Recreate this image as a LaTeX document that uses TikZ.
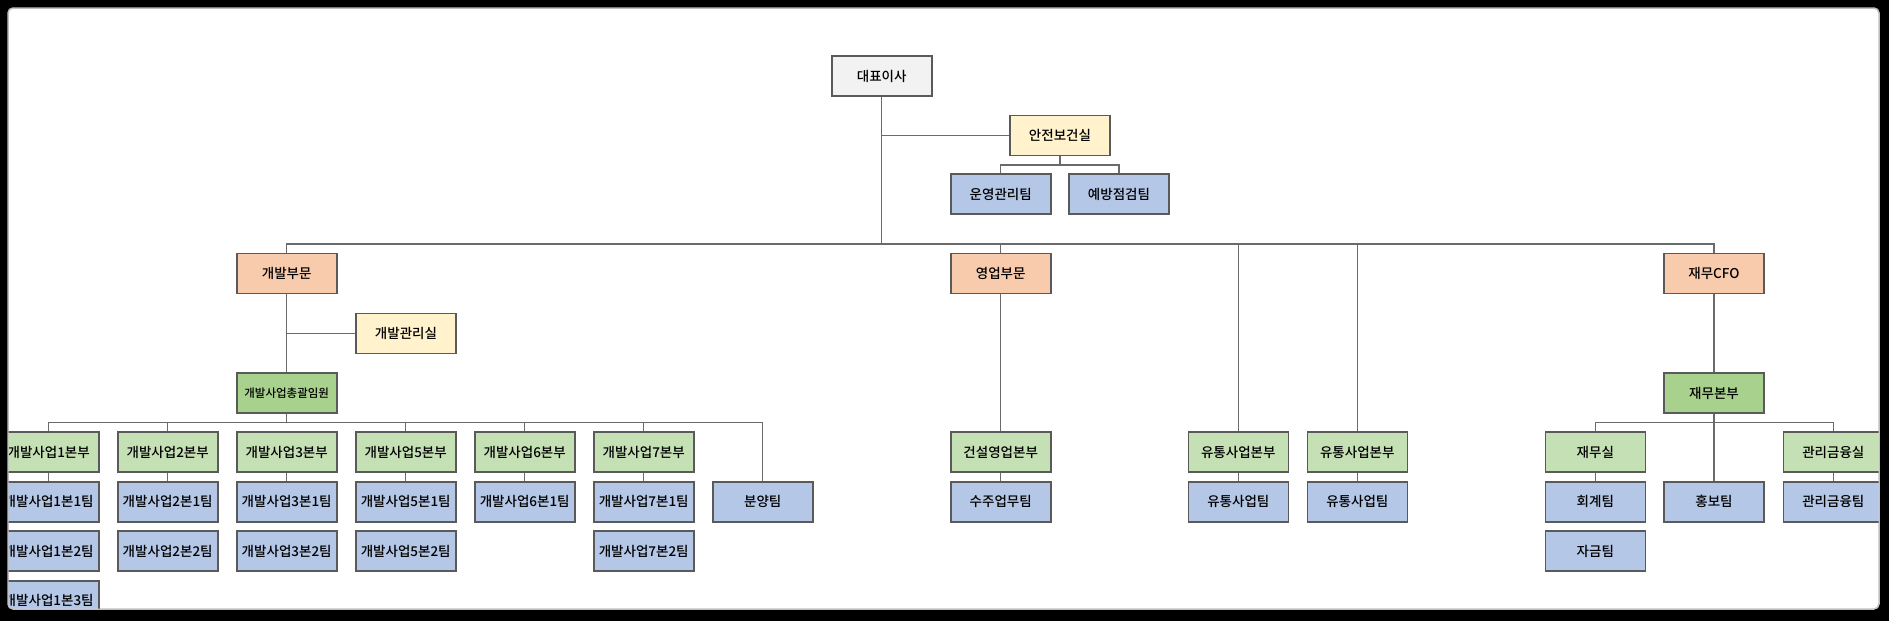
\documentclass[tikz,border=0pt]{standalone}
\usepackage{fontspec}
\newfontfamily\kr{Noto Sans CJK KR}[UprightFont={* Medium}]
\definecolor{cgray}{HTML}{F2F2F2}
\definecolor{cyel}{HTML}{FFF2CC}
\definecolor{corg}{HTML}{F8CBAD}
\definecolor{cdg}{HTML}{A9D18E}
\definecolor{clg}{HTML}{C5E0B4}
\definecolor{cbl}{HTML}{B4C7E7}
\definecolor{bline}{HTML}{5A5A5A}
\definecolor{cline}{HTML}{6A6A6A}
\tikzset{
  box/.style={draw=bline, line width=1.6pt, minimum width=100pt, minimum height=40pt, inner sep=0pt, font=\kr\fontsize{13.5}{16}\selectfont},
  gbox/.style={box, fill=cgray},
  ybox/.style={box, fill=cyel},
  obox/.style={box, fill=corg},
  dgbox/.style={box, fill=cdg},
  lgbox/.style={box, fill=clg},
  bbox/.style={box, fill=cbl},
  conn/.style={draw=cline, line width=1.3pt},
}
\begin{document}
\begin{tikzpicture}[x=1pt,y=-1pt]
\useasboundingbox (0,0) rectangle (1889,621);
\fill[black] (0,0) rectangle (1889,621);
\fill[white, draw=gray!50, line width=1.5pt, rounded corners=5pt] (8,8) rectangle (1879,609);
\begin{scope}
\clip[rounded corners=5pt] (8.5,8.5) rectangle (1878.5,608.5);
% coordinates
\coordinate (mb) at (881.7,244);
\coordinate (db) at (286.7,422.5);
\coordinate (fb) at (1714,422.5);
\coordinate (sb) at (1060,165);
% nodes
\node[gbox] (ceo) at (881.7,76) {대표이사};
\node[ybox] (safe) at (1060,135.5) {안전보건실};
\node[bbox] (ops) at (1000.7,194) {운영관리팀};
\node[bbox] (prev) at (1119,194) {예방점검팀};
\node[obox] (dev) at (286.7,273.5) {개발부문};
\node[ybox] (devm) at (406,333.5) {개발관리실};
\node[dgbox, font=\kr\fontsize{11.5}{14}\selectfont] (devx) at (286.7,393) {개발사업총괄임원};
\node[obox] (sales) at (1000.7,273.5) {영업부문};
\node[obox] (fin) at (1714,273.5) {재무CFO};
\node[dgbox] (finhq) at (1714,393) {재무본부};
% dev level 3
\node[lgbox] (d1) at (48.7,452) {개발사업1본부};
\node[lgbox] (d2) at (167.7,452) {개발사업2본부};
\node[lgbox] (d3) at (286.7,452) {개발사업3본부};
\node[lgbox] (d5) at (405.7,452) {개발사업5본부};
\node[lgbox] (d6) at (524.7,452) {개발사업6본부};
\node[lgbox] (d7) at (643.7,452) {개발사업7본부};
\node[bbox] (bun) at (762.7,501.7) {분양팀};
% dev teams
\node[bbox] (d1a) at (48.7,501.7) {개발사업1본1팀};
\node[bbox] (d1b) at (48.7,551.2) {개발사업1본2팀};
\node[bbox] (d1c) at (48.7,600.7) {개발사업1본3팀};
\node[bbox] (d2a) at (167.7,501.7) {개발사업2본1팀};
\node[bbox] (d2b) at (167.7,551.2) {개발사업2본2팀};
\node[bbox] (d3a) at (286.7,501.7) {개발사업3본1팀};
\node[bbox] (d3b) at (286.7,551.2) {개발사업3본2팀};
\node[bbox] (d5a) at (405.7,501.7) {개발사업5본1팀};
\node[bbox] (d5b) at (405.7,551.2) {개발사업5본2팀};
\node[bbox] (d6a) at (524.7,501.7) {개발사업6본1팀};
\node[bbox] (d7a) at (643.7,501.7) {개발사업7본1팀};
\node[bbox] (d7b) at (643.7,551.2) {개발사업7본2팀};
% sales
\node[lgbox] (s1) at (1000.7,452) {건설영업본부};
\node[bbox] (s1a) at (1000.7,501.7) {수주업무팀};
\node[lgbox] (u1) at (1238.3,452) {유통사업본부};
\node[bbox] (u1a) at (1238.3,501.7) {유통사업팀};
\node[lgbox] (u2) at (1357.3,452) {유통사업본부};
\node[bbox] (u2a) at (1357.3,501.7) {유통사업팀};
% finance
\node[lgbox] (fs) at (1595.3,452) {재무실};
\node[bbox] (fsa) at (1595.3,501.7) {회계팀};
\node[bbox] (fsb) at (1595.3,551.2) {자금팀};
\node[bbox] (fp) at (1714,501.7) {홍보팀};
\node[lgbox] (fm) at (1833.3,452) {관리금융실};
\node[bbox] (fma) at (1833.3,501.7) {관리금융팀};
% connectors
\draw[conn] (ceo.south) -- (mb);
\draw[conn] (ceo.south |- safe.west) -- (safe.west);
\draw[conn] (safe.south) -- (sb);
\draw[conn] (ops.north) |- (sb) -| (prev.north);
\draw[conn] (dev.north) |- (mb) -| (fin.north);
\draw[conn] (sales.north) -- (sales.north |- mb);
\draw[conn] (u1.north) -- (u1.north |- mb);
\draw[conn] (u2.north) -- (u2.north |- mb);
\draw[conn] (dev.south) -- (devx.north);
\draw[conn] (dev.south |- devm.west) -- (devm.west);
\draw[conn] (devx.south) -- (db);
\draw[conn] (d1.north) |- (db) -| (bun.north);
\draw[conn] (d2.north) -- (d2.north |- db);
\draw[conn] (d5.north) -- (d5.north |- db);
\draw[conn] (d6.north) -- (d6.north |- db);
\draw[conn] (d7.north) -- (d7.north |- db);
\draw[conn] (d1.south) -- (d1a.north);
\draw[conn] (d2.south) -- (d2a.north);
\draw[conn] (d3.south) -- (d3a.north);
\draw[conn] (d5.south) -- (d5a.north);
\draw[conn] (d6.south) -- (d6a.north);
\draw[conn] (d7.south) -- (d7a.north);
\draw[conn] (sales.south) -- (s1.north);
\draw[conn] (s1.south) -- (s1a.north);
\draw[conn] (u1.south) -- (u1a.north);
\draw[conn] (u2.south) -- (u2a.north);
\draw[conn] (fin.south) -- (finhq.north);
\draw[conn] (finhq.south) -- (fp.north);
\draw[conn] (fs.north) |- (fb) -| (fm.north);
\draw[conn] (fs.south) -- (fsa.north);
\draw[conn] (fm.south) -- (fma.north);
\end{scope}
\end{tikzpicture}
\end{document}
